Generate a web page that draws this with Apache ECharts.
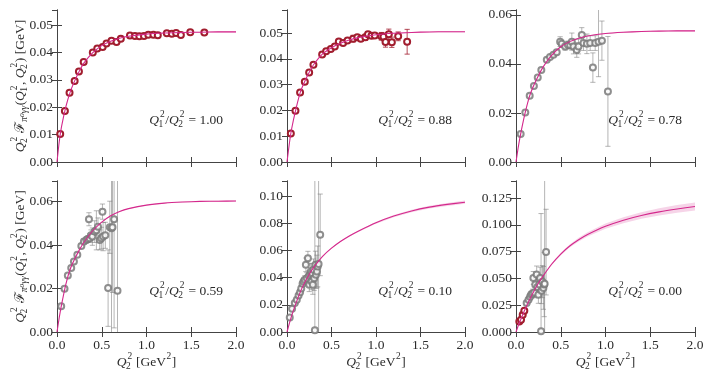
<!DOCTYPE html>
<html lang="en">
<head>
<meta charset="UTF-8">
<title>pi0 transition form factor</title>
<script src="https://cdn.jsdelivr.net/npm/echarts@6/dist/echarts.min.js"></script>
<style>html,body{margin:0;padding:0;background:#fff}</style>
</head>
<body>
<div id="main" style="width:712px;height:378px"></div>
<script type="text/javascript">
// panel settings
var ratioLabels = ['1.00', '0.88', '0.78', '0.59', '0.10', '0.00'];
var yMax = [0.0555, 0.0589, 0.062, 0.0695, 0.111, 0.141];
var yStep = [0.01, 0.01, 0.02, 0.02, 0.02, 0.025];
var yDigits = [2, 2, 2, 2, 2, 3];

// fit curves, sampled by eye at these Q2^2 values
var curveQ = [0, 0.025, 0.05, 0.1, 0.15, 0.2, 0.25, 0.3, 0.4, 0.5, 0.6, 0.7, 0.8, 1.0, 1.2, 1.4, 1.6, 1.8, 2.0];
var curve1 = [0, 0.0074, 0.0128, 0.0203, 0.0258, 0.0298, 0.0332, 0.0361, 0.0399, 0.0425, 0.0441, 0.0452, 0.0459, 0.0467, 0.0471, 0.0473, 0.0474, 0.0475, 0.0475];
var curve2 = [0, 0.0068, 0.0125, 0.0205, 0.0271, 0.0313, 0.0348, 0.0378, 0.0419, 0.0443, 0.046, 0.0473, 0.0482, 0.0493, 0.0499, 0.0502, 0.0504, 0.0505, 0.0505];
var curve3 = [0, 0.006, 0.0111, 0.0197, 0.0267, 0.0314, 0.0352, 0.0386, 0.0436, 0.047, 0.0491, 0.0505, 0.0514, 0.0524, 0.0529, 0.0532, 0.0534, 0.0535, 0.0535];
var curve4 = [0, 0.0066, 0.0124, 0.0222, 0.0292, 0.0338, 0.0378, 0.0412, 0.0466, 0.0506, 0.0535, 0.0555, 0.0568, 0.0584, 0.0593, 0.0598, 0.0601, 0.0602, 0.0603];
var curve5 = [0, 0.006, 0.0115, 0.021, 0.0295, 0.0365, 0.0425, 0.0475, 0.0556, 0.0616, 0.0665, 0.0706, 0.0741, 0.0803, 0.0852, 0.089, 0.0918, 0.0938, 0.0954];
var curve6 = [0, 0.0058, 0.011, 0.021, 0.0298, 0.038, 0.0455, 0.052, 0.0635, 0.0728, 0.0803, 0.0862, 0.0911, 0.0988, 0.1044, 0.1088, 0.1122, 0.1149, 0.1172];
// half widths of the shaded band
var band1 = [0, 0.0001, 0.0001, 0.0002, 0.0002, 0.0002, 0.0002, 0.0002, 0.0002, 0.0002, 0.0002, 0.0002, 0.0002, 0.0002, 0.0002, 0.0002, 0.0002, 0.0003, 0.0003];
var band5 = [0, 0.0001, 0.0001, 0.0001, 0.0002, 0.0002, 0.0002, 0.0003, 0.0003, 0.0004, 0.0004, 0.0005, 0.0006, 0.0007, 0.0008, 0.0009, 0.001, 0.0011, 0.0012];
var band6 = [0, 0.0001, 0.0002, 0.0003, 0.0004, 0.0005, 0.0006, 0.0007, 0.0009, 0.0011, 0.0014, 0.0017, 0.002, 0.0024, 0.0028, 0.0031, 0.0034, 0.0036, 0.0038];

// lattice points
var red1Q = [0.036, 0.088, 0.14, 0.197, 0.245, 0.298, 0.40, 0.45, 0.51, 0.553, 0.609, 0.665, 0.713, 0.815, 0.871, 0.92, 0.972, 1.02, 1.077, 1.126, 1.227, 1.283, 1.331, 1.384, 1.489, 1.646];
var red1F = [0.0102, 0.0186, 0.0253, 0.0296, 0.033, 0.0365, 0.040, 0.0414, 0.042, 0.0433, 0.0443, 0.0438, 0.045, 0.0462, 0.046, 0.0459, 0.046, 0.0465, 0.0465, 0.0463, 0.047, 0.0468, 0.0471, 0.0464, 0.0474, 0.0473];
var red1E = [0.0003, 0.0003, 0.0003, 0.0003, 0.0003, 0.0003, 0.0003, 0.0003, 0.0003, 0.0003, 0.0003, 0.0003, 0.0003, 0.0003, 0.0003, 0.0003, 0.0003, 0.0003, 0.0003, 0.0003, 0.0003, 0.0003, 0.0003, 0.0003, 0.0003, 0.0003];

var red2Q = [0.043, 0.095, 0.147, 0.2, 0.249, 0.297, 0.395, 0.44, 0.492, 0.537, 0.582, 0.63, 0.68, 0.743, 0.79, 0.829, 0.88, 0.91, 0.949, 0.986, 1.06, 1.084, 1.107, 1.144, 1.178, 1.249, 1.35];
var red2F = [0.011, 0.0199, 0.0269, 0.0311, 0.0347, 0.0377, 0.0417, 0.0429, 0.0438, 0.0448, 0.0467, 0.0461, 0.0471, 0.0478, 0.0483, 0.0478, 0.0483, 0.0495, 0.0489, 0.049, 0.0487, 0.0485, 0.0465, 0.0495, 0.0464, 0.0487, 0.0466];
var red2E = [0.0003, 0.0003, 0.0003, 0.0003, 0.0003, 0.0003, 0.0004, 0.0004, 0.0004, 0.0004, 0.0005, 0.0005, 0.0005, 0.0013, 0.0008, 0.001, 0.0012, 0.001, 0.001, 0.001, 0.0015, 0.0015, 0.002, 0.002, 0.002, 0.0017, 0.0048];

var gray3Q = [0.052, 0.104, 0.153, 0.2, 0.243, 0.283, 0.344, 0.38, 0.418, 0.455, 0.493, 0.511, 0.549, 0.58, 0.605, 0.624, 0.642, 0.679, 0.698, 0.735, 0.754, 0.792, 0.829, 0.859, 0.885, 0.922, 0.96, 1.027];
var gray3F = [0.0114, 0.0202, 0.027, 0.031, 0.0345, 0.0375, 0.0417, 0.0428, 0.0437, 0.0448, 0.0491, 0.0482, 0.0471, 0.0478, 0.0476, 0.0491, 0.0471, 0.0457, 0.0471, 0.0518, 0.0485, 0.0482, 0.0485, 0.0385, 0.0485, 0.0491, 0.0495, 0.0288];
var gray3E = [0.0003, 0.0003, 0.0004, 0.0004, 0.0005, 0.0005, 0.0006, 0.0006, 0.0007, 0.0008, 0.002, 0.0015, 0.0015, 0.0015, 0.0015, 0.0035, 0.003, 0.003, 0.003, 0.003, 0.003, 0.004, 0.003, 0.006, 0.003, 0.0143, 0.008, 0.0224];

var gray4Q = [0.047, 0.084, 0.121, 0.159, 0.189, 0.227, 0.272, 0.301, 0.328, 0.345, 0.357, 0.365, 0.38, 0.395, 0.421, 0.44, 0.458, 0.478, 0.495, 0.508, 0.515, 0.54, 0.571, 0.59, 0.609, 0.62, 0.638, 0.676];
var gray4F = [0.0118, 0.0199, 0.026, 0.0294, 0.0324, 0.0355, 0.0396, 0.0416, 0.0424, 0.0428, 0.0519, 0.0432, 0.0445, 0.0439, 0.0462, 0.0468, 0.0485, 0.0424, 0.0432, 0.0554, 0.0439, 0.0445, 0.0202, 0.0482, 0.0478, 0.0482, 0.0519, 0.019];
var gray4E = [0.0004, 0.0005, 0.0006, 0.0007, 0.0008, 0.0009, 0.001, 0.0012, 0.0014, 0.0015, 0.003, 0.002, 0.0025, 0.004, 0.005, 0.009, 0.004, 0.0046, 0.005, 0.0035, 0.0065, 0.006, 0.0176, 0.012, 0.05, 0.03, 0.05, 0.06];

var gray5Q = [0.031, 0.057, 0.088, 0.11, 0.13, 0.147, 0.16, 0.175, 0.186, 0.2, 0.212, 0.223, 0.235, 0.245, 0.25, 0.26, 0.268, 0.276, 0.283, 0.29, 0.298, 0.305, 0.313, 0.32, 0.325, 0.336, 0.345, 0.355, 0.373];
var gray5F = [0.0107, 0.0171, 0.0213, 0.0237, 0.0269, 0.0293, 0.032, 0.0355, 0.0371, 0.0384, 0.0494, 0.0396, 0.0543, 0.0411, 0.0347, 0.0425, 0.0445, 0.0371, 0.0432, 0.0347, 0.0457, 0.0396, 0.0012, 0.0494, 0.042, 0.0445, 0.0482, 0.05, 0.0714];
var gray5E = [0.0008, 0.001, 0.0012, 0.0013, 0.0015, 0.0015, 0.002, 0.002, 0.0025, 0.003, 0.005, 0.004, 0.005, 0.004, 0.005, 0.005, 0.006, 0.006, 0.007, 0.007, 0.008, 0.009, 0.12, 0.01, 0.01, 0.012, 0.015, 0.1, 0.03];

var red6Q = [0.037, 0.056, 0.075, 0.093];
var red6F = [0.0099, 0.0115, 0.0162, 0.0199];
var red6E = [0.0004, 0.0004, 0.0005, 0.0005];
var gray6Q = [0.119, 0.14, 0.157, 0.17, 0.185, 0.194, 0.205, 0.215, 0.231, 0.24, 0.25, 0.262, 0.269, 0.28, 0.285, 0.295, 0.306, 0.315, 0.32, 0.336];
var gray6F = [0.0271, 0.03, 0.0329, 0.035, 0.036, 0.0505, 0.037, 0.0443, 0.0536, 0.042, 0.0348, 0.0443, 0.0505, 0.0006, 0.0385, 0.047, 0.0412, 0.0443, 0.045, 0.0746];
var gray6E = [0.002, 0.002, 0.003, 0.003, 0.004, 0.006, 0.005, 0.006, 0.008, 0.007, 0.008, 0.009, 0.01, 0.11, 0.012, 0.015, 0.02, 0.03, 0.2, 0.04];

var RED = '#a11d2e', GRAY = '#7a7a7a', MAG = '#d4288c';
var TXT = '#2b2b2b', AX = '#444';
var FAM = '"Liberation Serif", "DejaVu Serif", serif';

var curves = [curve1, curve2, curve3, curve4, curve5, curve6];
var bands = [band1, band1, band1, band1, band5, band6];
var pointSets = [
  [[red1Q, red1F, red1E, RED]],
  [[red2Q, red2F, red2E, RED]],
  [[gray3Q, gray3F, gray3E, GRAY]],
  [[gray4Q, gray4F, gray4E, GRAY]],
  [[gray5Q, gray5F, gray5E, GRAY]],
  [[gray6Q, gray6F, gray6E, GRAY], [red6Q, red6F, red6E, RED]]
];

var gridPos = [
  {left: 57, top: 10, width: 179, height: 152},
  {left: 287, top: 10, width: 178, height: 152},
  {left: 516, top: 10, width: 179, height: 152},
  {left: 57, top: 181, width: 179, height: 151},
  {left: 287, top: 181, width: 178, height: 151},
  {left: 516, top: 181, width: 179, height: 151}
];

function zip(a, b, c) {
  return a.map(function (v, i) { return c ? [v, b[i], c[i]] : [v, b[i]]; });
}

var grids = [], xAxes = [], yAxes = [], series = [];
gridPos.forEach(function (g, i) {
  grids.push({left: g.left, top: g.top, width: g.width, height: g.height});
  var lbl = {fontFamily: FAM, fontSize: 13.5, color: TXT};
  var line = {show: true, lineStyle: {color: AX, width: 1}};
  var tick = {show: true, inside: true, length: 5, lineStyle: {color: AX}};
  xAxes.push({
    gridIndex: i, type: 'value', position: 'bottom', min: 0, max: 2, interval: 0.5,
    axisLine: line, axisTick: tick, splitLine: {show: false},
    axisLabel: Object.assign({show: i >= 3, margin: 6, showMinLabel: true, showMaxLabel: true,
      formatter: function (v) { return v.toFixed(1); }}, lbl)
  });
  xAxes.push({
    gridIndex: i, type: 'value', position: 'top', min: 0, max: 2, interval: 0.5,
    axisLine: line, axisTick: tick, splitLine: {show: false}, axisLabel: {show: false}
  });
  var step = yStep[i], dg = yDigits[i];
  yAxes.push({
    gridIndex: i, type: 'value', position: 'left', min: 0, max: yMax[i], interval: step,
    axisLine: line, axisTick: tick, splitLine: {show: false},
    axisLabel: Object.assign({margin: 4, showMaxLabel: false, formatter: function (v) {
      var k = v / step;
      return Math.abs(k - Math.round(k)) < 1e-6 ? v.toFixed(dg) : '';
    }}, lbl)
  });
  yAxes.push({
    gridIndex: i, type: 'value', position: 'right', min: 0, max: yMax[i], interval: step,
    axisLine: line, axisTick: tick, splitLine: {show: false}, axisLabel: {show: false}
  });

  var xi = 2 * i, yi = 2 * i;
  var cv = curves[i], bd = bands[i];
  // shaded band around the fit
  series.push({
    type: 'custom', xAxisIndex: xi, yAxisIndex: yi, z: 2, silent: true,
    data: [[0]],
    renderItem: function (params, api) {
      var up = [], lo = [];
      for (var k = 0; k < curveQ.length; k++) {
        up.push(api.coord([curveQ[k], cv[k] + bd[k]]));
        lo.unshift(api.coord([curveQ[k], cv[k] - bd[k]]));
      }
      return {type: 'polygon', shape: {points: up.concat(lo)},
        style: {fill: 'rgba(212,40,140,0.2)', stroke: 'none'}};
    }
  });
  // error bars and markers
  pointSets[i].forEach(function (ps) {
    var col = ps[3];
    series.push({
      type: 'custom', xAxisIndex: xi, yAxisIndex: yi, z: 3, silent: true,
      data: zip(ps[0], ps[1], ps[2]),
      renderItem: function (params, api) {
        var q = api.value(0), f = api.value(1), e = api.value(2);
        var t = api.coord([q, f + e]), b = api.coord([q, f - e]);
        var cs = params.coordSys;
        var y0 = Math.max(t[1], cs.y), y1 = Math.min(b[1], cs.y + cs.height);
        var st = {stroke: col, lineWidth: 0.8, opacity: col === GRAY ? 0.7 : 1};
        var kids = [{type: 'line', shape: {x1: t[0], y1: y0, x2: t[0], y2: y1}, style: st}];
        if (t[1] >= cs.y) kids.push({type: 'line', shape: {x1: t[0] - 2.6, y1: t[1], x2: t[0] + 2.6, y2: t[1]}, style: st});
        if (b[1] <= cs.y + cs.height) kids.push({type: 'line', shape: {x1: b[0] - 2.6, y1: b[1], x2: b[0] + 2.6, y2: b[1]}, style: st});
        return {type: 'group', children: kids};
      }
    });
    series.push({
      type: 'scatter', xAxisIndex: xi, yAxisIndex: yi, z: 4, silent: true,
      symbol: 'emptyCircle', symbolSize: 6,
      itemStyle: {color: col, borderColor: col, borderWidth: 0.9, opacity: col === GRAY ? 0.85 : 1},
      data: zip(ps[0], ps[1])
    });
  });
  series.push({
    type: 'line', xAxisIndex: xi, yAxisIndex: yi, z: 5, silent: true,
    showSymbol: false, smooth: 0.2,
    lineStyle: {color: MAG, width: 1.1},
    data: zip(curveQ, cv)
  });
});

// math-style labels built from small text pieces
var mctx = document.createElement('canvas').getContext('2d');
function fnt(size, it) { return (it ? 'italic ' : '') + size + 'px ' + FAM; }
function measure(s, f) { mctx.font = f; return mctx.measureText(s).width; }
function txt(x, y, s, f) {
  return {type: 'text', x: x, y: y, silent: true,
    style: {text: s, font: f, fill: TXT, align: 'left', verticalAlign: 'middle', textAlign: 'left', textVerticalAlign: 'middle'}};
}
function mathPieces(parts, fs) {
  var ss = fs * 0.7, kids = [], x = 0;
  parts.forEach(function (p) {
    var f = fnt(fs, p.it);
    kids.push(txt(x, 0, p.t, f));
    x += measure(p.t, f);
    var adv = 0;
    if (p.sup) {
      var sf = fnt(ss, false), off = p.it ? 1 : 0.5;
      kids.push(txt(x + off, -fs * 0.4, p.sup, sf));
      adv = Math.max(adv, measure(p.sup, sf) + off);
    }
    if (p.sub) {
      var bf = fnt(ss, p.subIt);
      kids.push(txt(x - (p.it ? 0.5 : 0), fs * 0.3, p.sub, bf));
      adv = Math.max(adv, measure(p.sub, bf));
    }
    x += adv + (p.sup || p.sub ? 0.5 : 0);
  });
  return {kids: kids, w: x};
}
function place(pc, x, y, anchor, rot) {
  var dx = anchor === 'right' ? -pc.w : anchor === 'center' ? -pc.w / 2 : 0;
  pc.kids.forEach(function (k) { k.x += dx; });
  return {type: 'group', x: x, y: y, rotation: rot || 0, children: pc.kids};
}

var FS = 13.5;
var graphics = [];
gridPos.forEach(function (g, i) {
  var pc = mathPieces([
    {t: 'Q', it: true, sub: '1', sup: '2'}, {t: '/'},
    {t: 'Q', it: true, sub: '2', sup: '2'}, {t: ' = ' + ratioLabels[i]}
  ], FS);
  graphics.push(place(pc, g.left + g.width - 13, g.top + 110, 'right'));
});
[0, 3].forEach(function (i) {
  var g = gridPos[i];
  var pc = mathPieces([
    {t: 'Q', it: true, sub: '2', sup: '2'}, {t: ' '},
    {t: 'ℱ', sub: 'π⁰γγ', subIt: true}, {t: '('},
    {t: 'Q', it: true, sub: '1', sup: '2'}, {t: ', '},
    {t: 'Q', it: true, sub: '2', sup: '2'}, {t: ') [GeV]'}
  ], FS);
  graphics.push(place(pc, 20, g.top + g.height / 2, 'center', Math.PI / 2));
});
[3, 4, 5].forEach(function (i) {
  var g = gridPos[i];
  var pc = mathPieces([
    {t: 'Q', it: true, sub: '2', sup: '2'}, {t: ' [GeV', sup: '2'}, {t: ']'}
  ], FS);
  graphics.push(place(pc, g.left + g.width / 2, 362, 'center'));
});

var myChart = echarts.init(document.getElementById('main'), null, {renderer: 'canvas'});
myChart.setOption({
  animation: false,
  backgroundColor: '#fff',
  grid: grids,
  xAxis: xAxes,
  yAxis: yAxes,
  series: series,
  graphic: {elements: graphics}
});
</script>
</body>
</html>
